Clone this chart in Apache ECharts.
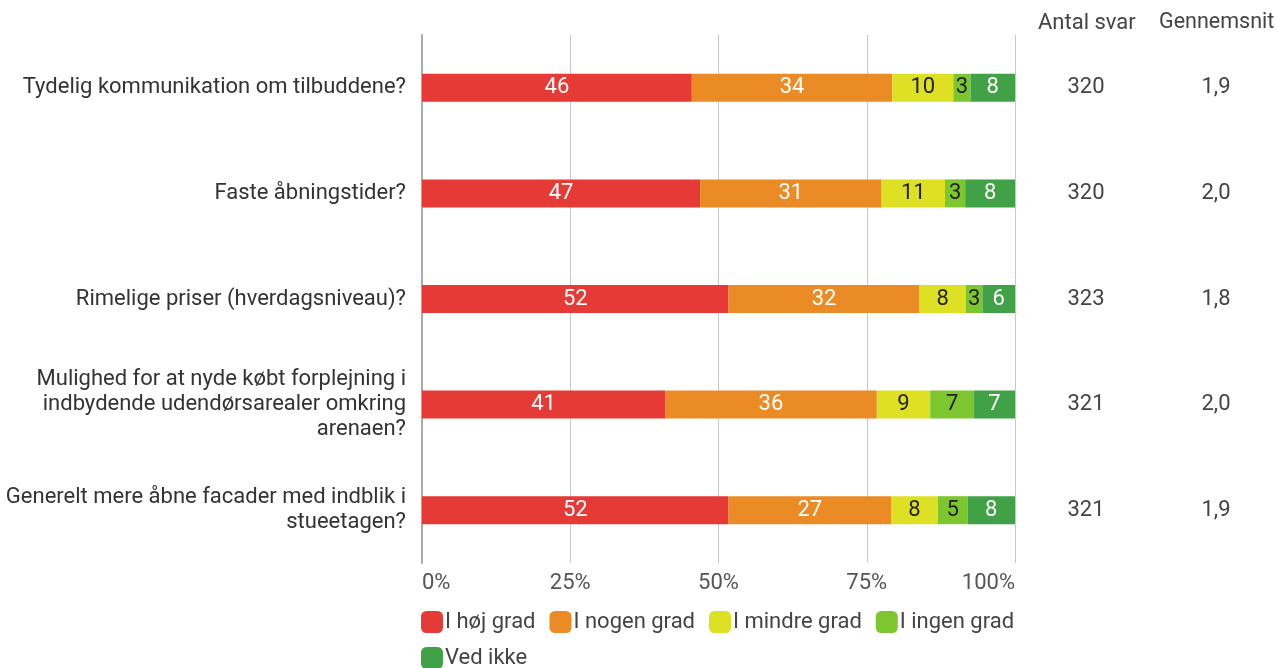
<!DOCTYPE html>
<html><head><meta charset="utf-8">
<script src="https://cdn.jsdelivr.net/npm/echarts@6/dist/echarts.min.js"></script>
<style>html,body{margin:0;padding:0;background:#fff}#c{width:1277px;height:668px}</style>
</head><body><div id="c"></div>
<script>
const categories = [
  "Tydelig kommunikation om tilbuddene?",
  "Faste åbningstider?",
  "Rimelige priser (hverdagsniveau)?",
  "Mulighed for at nyde købt forplejning i\nindbydende udendørsarealer omkring\narenaen?",
  "Generelt mere åbne facader med indblik i\nstueetagen?"
];
const seriesNames = ["I høj grad", "I nogen grad", "I mindre grad", "I ingen grad", "Ved ikke"];
const hoej   = [45.5, 46.9, 51.7, 41.0, 51.7];
const nogen  = [33.8, 30.6, 32.2, 35.7, 27.4];
const mindre = [10.3, 10.7, 7.8, 9.0, 7.9];
const ingen  = [2.9, 3.4, 2.8, 7.4, 5.0];
const vedIkke= [7.5, 8.4, 5.5, 6.9, 8.0];
const antalSvar = ["320", "320", "323", "321", "321"];
const gennemsnit = ["1,9", "2,0", "1,8", "2,0", "1,9"];
const xTicks = [0, 25, 50, 75, 100];

const colors = ["#E63A36", "#EB8B25", "#DEE023", "#7DC62F", "#41A147"];
const labelColors = ["#fff", "#fff", "#222", "#222", "#fff"];
const values = [hoej, nogen, mindre, ingen, vedIkke];
const FONT = "Roboto";
const FS = 22;

const chart = echarts.init(document.getElementById('c'));
chart.setOption({
  animation: false,
  textStyle: { fontFamily: FONT },
  color: colors,
  title: [
    { text: "Antal svar", left: 1038, top: 12, padding: 0,
      textStyle: { fontFamily: FONT, fontSize: FS, fontWeight: 'normal', color: '#444' } },
    { text: "Gennemsnit", left: 1159, top: 12, padding: 0,
      textStyle: { fontFamily: FONT, fontSize: 21.5, fontWeight: 'normal', color: '#444' } }
  ],
  legend: {
    left: 416, top: 606, width: 625,
    itemWidth: 22, itemHeight: 22, itemGap: 14,
    icon: 'roundRect',
    textStyle: { fontFamily: FONT, fontSize: FS, color: '#444', padding: [0, 0, 0, -3] },
    data: seriesNames
  },
  grid: { left: 422, right: 262, top: 35, bottom: 105, containLabel: false },
  xAxis: {
    type: 'value', min: 0, max: 100, interval: 25,
    axisLabel: { formatter: v => xTicks.includes(v) ? v + '%' : '', fontSize: FS, color: '#555', margin: 9,
      fontFamily: FONT, alignMinLabel: 'left', alignMaxLabel: 'right' },
    splitLine: { show: true, lineStyle: { color: '#c8c8c8', width: 1 } },
    axisLine: { show: false }, axisTick: { show: false }
  },
  yAxis: [
    { type: 'category', data: categories, inverse: true,
      axisLine: { show: true, lineStyle: { color: '#aaa', width: 2 } },
      axisTick: { show: false },
      axisLabel: { fontSize: FS, color: '#333', margin: 16, lineHeight: 25, align: 'right', fontFamily: FONT } },
    { type: 'category', data: antalSvar, inverse: true, position: 'right',
      axisLine: { show: false }, axisTick: { show: false },
      axisLabel: { fontSize: FS, color: '#444', margin: 71, align: 'center', fontFamily: FONT } },
    { type: 'category', data: gennemsnit, inverse: true, position: 'right',
      axisLine: { show: false }, axisTick: { show: false },
      axisLabel: { fontSize: FS, color: '#444', margin: 201, align: 'center', fontFamily: FONT } }
  ],
  series: seriesNames.map((name, i) => ({
    name, type: 'bar', stack: 'total', barWidth: 28,
    data: values[i],
    itemStyle: { color: colors[i] },
    label: { show: true, position: 'inside', fontSize: FS, color: labelColors[i], fontFamily: FONT,
      formatter: p => Math.round(p.value) }
  }))
});
</script></body></html>
